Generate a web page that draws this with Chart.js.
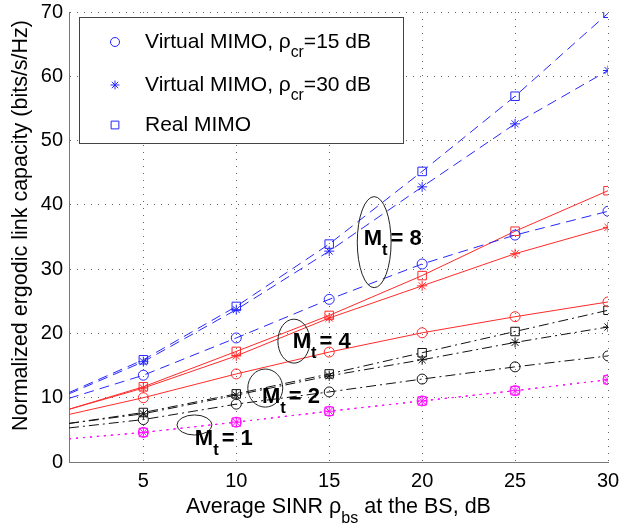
<!DOCTYPE html>
<html>
<head>
<meta charset="utf-8">
<script src="https://cdn.jsdelivr.net/npm/chart.js@4/dist/chart.umd.min.js"></script>
<style>
html, body { margin: 0; padding: 0; background: #fff; }
#wrap { width: 620px; height: 527px; }
</style>
</head>
<body>
<div id="wrap"><canvas id="chart" width="620" height="527"></canvas></div>
<script>
// x values (SINR, dB); first point only carries the line to the left edge
var snr = [1, 5, 10, 15, 20, 25, 30];

// Mt = 8
var mt8Circle = [9.9, 13.5, 19.3, 25.3, 30.8, 35.3, 39.0];
var mt8Star   = [10.6, 15.6, 23.7, 32.8, 42.8, 52.6, 60.9];
var mt8Square = [10.8, 15.9, 24.2, 33.9, 45.2, 56.9, 69.8];
// Mt = 4
var mt4Circle = [7.4, 10.0, 13.7, 17.1, 20.1, 22.6, 24.9];
var mt4Star   = [8.2, 11.5, 16.5, 22.4, 27.4, 32.4, 36.5];
var mt4Square = [8.2, 11.7, 17.2, 22.8, 29.0, 35.9, 42.2];
// Mt = 2
var mt2Circle = [5.3, 6.6, 9.0, 10.9, 12.9, 14.8, 16.5];
var mt2Star   = [6.0, 7.5, 10.4, 13.4, 15.9, 18.6, 21.0];
var mt2Square = [6.0, 7.7, 10.6, 13.7, 17.0, 20.3, 23.6];
// Mt = 1
var mt1Circle = [3.6, 4.6, 6.2, 7.9, 9.5, 11.1, 12.8];
var mt1Star   = [3.6, 4.6, 6.2, 7.9, 9.5, 11.1, 12.8];
var mt1Square = [3.6, 4.6, 6.2, 7.9, 9.5, 11.1, 12.8];

var xTicks = [5, 10, 15, 20, 25, 30];
var yTicks = [0, 10, 20, 30, 40, 50, 60, 70];

var legendNames = ['Virtual MIMO, ', 'Virtual MIMO, ', 'Real MIMO'];
var legendRho = ['=15 dB', '=30 dB', ''];
var mtLabels = ['8', '4', '2', '1'];

var FONT = "'Liberation Sans', Arial, Helvetica, sans-serif";
var blue = '#2626ff', red = '#ff2a2a', black = '#111', magenta = '#ff10ff';

function series(ys, color, style, dash) {
    return {
        data: snr.map(function (x, i) { return {x: x, y: ys[i]}; }),
        borderColor: color,
        borderWidth: 1,
        borderDash: dash,
        backgroundColor: 'transparent',
        pointStyle: style,
        pointRadius: function (c) {
            if (snr[c.dataIndex] === 1) return 0;
            return style === 'rect' ? 6 : 5;
        },
        pointBorderColor: color,
        pointBackgroundColor: 'transparent',
        pointBorderWidth: 1,
        tension: 0,
        fill: false
    };
}

var dashed = [10, 6], dashDot = [10, 4, 2, 4], dotted = [2, 5];

// text with subscripts: parts = [[text, isSub], ...]
function partsWidth(ctx, parts, size, bold) {
    var w = 0;
    parts.forEach(function (p) {
        ctx.font = (bold ? 'bold ' : '') + (p[1] ? size * 0.75 : size) + 'px ' + FONT;
        w += ctx.measureText(p[0]).width + (p[2] || 0);
    });
    return w;
}
function drawParts(ctx, parts, x, y, size, bold) {
    parts.forEach(function (p) {
        ctx.font = (bold ? 'bold ' : '') + (p[1] ? size * 0.75 : size) + 'px ' + FONT;
        ctx.fillText(p[0], x, y + (p[1] ? size * 0.45 : 0));
        x += ctx.measureText(p[0]).width + (p[2] || 0);
    });
}

var decorations = {
    id: 'decorations',
    afterDatasetsDraw: function (chart) {
        var ctx = chart.ctx, xs = chart.scales.x, ys = chart.scales.y;
        ctx.save();
        ctx.fillStyle = '#000';
        ctx.textAlign = 'left';
        ctx.textBaseline = 'alphabetic';

        // ellipses + Mt labels
        var groups = [
            {x: 17.42, y: 34.2, rx: 0.91, ry: 7.08, tx: 16.86, ty: 33.8},
            {x: 13.1, y: 18.8, rx: 0.86, ry: 3.42, tx: 13.04, ty: 17.7},
            {x: 11.56, y: 11.5, rx: 0.94, ry: 2.96, tx: 11.38, ty: 9.2},
            {x: 7.75, y: 5.76, rx: 0.94, ry: 1.56, tx: 7.77, ty: 2.65}
        ];
        groups.forEach(function (g, i) {
            var cx = xs.getPixelForValue(g.x), cy = ys.getPixelForValue(g.y);
            var rx = xs.getPixelForValue(g.x + g.rx) - cx;
            var ry = cy - ys.getPixelForValue(g.y + g.ry);
            ctx.beginPath();
            ctx.strokeStyle = '#222';
            ctx.lineWidth = 1;
            ctx.ellipse(cx, cy, rx, ry, 0, 0, Math.PI * 2);
            ctx.stroke();
            ctx.fillStyle = '#000';
            drawParts(ctx, [['M', false], ['t', true, 3], ['= ' + mtLabels[i], false]],
                xs.getPixelForValue(g.tx), ys.getPixelForValue(g.ty), 22, true);
        });

        // legend box
        var lx = 79.5, ly = 17.5, lw = 324, lh = 126;
        ctx.fillStyle = '#fff';
        ctx.fillRect(lx, ly, lw, lh);
        ctx.strokeStyle = '#444';
        ctx.lineWidth = 1;
        ctx.strokeRect(lx, ly, lw, lh);
        var styles = ['circle', 'star', 'rect'];
        var rows = [42, 85, 125];
        styles.forEach(function (s, i) {
            ctx.strokeStyle = blue;
            ctx.fillStyle = 'rgba(0,0,0,0)';
            ctx.lineWidth = 1;
            Chart.helpers.drawPoint(ctx, {
                pointStyle: s, radius: s === 'rect' ? 5.5 : 4.5, rotation: 0, borderWidth: 1
            }, 115, rows[i]);
            ctx.fillStyle = '#000';
            var parts = [[legendNames[i], false]];
            if (legendRho[i]) parts.push(['\u03c1', false], ['cr', true], [legendRho[i], false]);
            drawParts(ctx, parts, 145, rows[i] + 6, 21, false);
        });

        // axis titles
        ctx.fillStyle = '#000';
        var xt = [['Average SINR \u03c1', false], ['bs', true], [' at the BS, dB', false]];
        var w = partsWidth(ctx, xt, 21.5, false);
        drawParts(ctx, xt, (chart.chartArea.left + chart.chartArea.right) / 2 - w / 2, 513, 21.5, false);

        ctx.translate(27, 225.5);
        ctx.rotate(-Math.PI / 2);
        ctx.textAlign = 'center';
        ctx.font = '21.5px ' + FONT;
        ctx.fillText('Normalized ergodic link capacity (bits/s/Hz)', 0, 0);
        ctx.restore();
    }
};

var ctx = document.getElementById('chart').getContext('2d');
var chart = new Chart(ctx, {
    type: 'line',
    data: {
        datasets: [
            series(mt8Circle, blue, 'circle', dashed),
            series(mt8Star, blue, 'star', dashed),
            series(mt8Square, blue, 'rect', dashed),
            series(mt4Circle, red, 'circle', []),
            series(mt4Star, red, 'star', []),
            series(mt4Square, red, 'rect', []),
            series(mt2Circle, black, 'circle', dashDot),
            series(mt2Star, black, 'star', dashDot),
            series(mt2Square, black, 'rect', dashDot),
            series(mt1Circle, magenta, 'circle', dotted),
            series(mt1Star, magenta, 'star', dotted),
            series(mt1Square, magenta, 'rect', dotted)
        ]
    },
    options: {
        responsive: false,
        animation: false,
        devicePixelRatio: 1,
        layout: {padding: {top: 12, right: 12, left: 0, bottom: 0}},
        plugins: {legend: {display: false}, tooltip: {enabled: false}},
        scales: {
            x: {
                type: 'linear',
                min: 1,
                max: 30,
                afterBuildTicks: function (scale) {
                    scale.ticks = xTicks.map(function (v) { return {value: v}; });
                },
                afterFit: function (scale) {
                    scale.height = 65;
                    scale.paddingLeft = 0;
                    scale.paddingRight = 0;
                },
                grid: {color: '#666', lineWidth: 1, drawTicks: false},
                border: {display: true, color: '#777', width: 1, dash: [1, 6]},
                ticks: {color: '#000', padding: 7, maxRotation: 0, font: {family: FONT, size: 20}}
            },
            y: {
                min: 0,
                max: 70,
                afterBuildTicks: function (scale) {
                    scale.ticks = yTicks.map(function (v) { return {value: v}; });
                },
                afterFit: function (scale) {
                    scale.width = 69;
                    scale.paddingTop = 0;
                    scale.paddingBottom = 0;
                },
                grid: {color: '#666', lineWidth: 1, drawTicks: false},
                border: {display: true, color: '#777', width: 1, dash: [1, 6]},
                ticks: {color: '#000', padding: 6, font: {family: FONT, size: 20}}
            }
        }
    },
    plugins: [decorations]
});
</script>
</body>
</html>
